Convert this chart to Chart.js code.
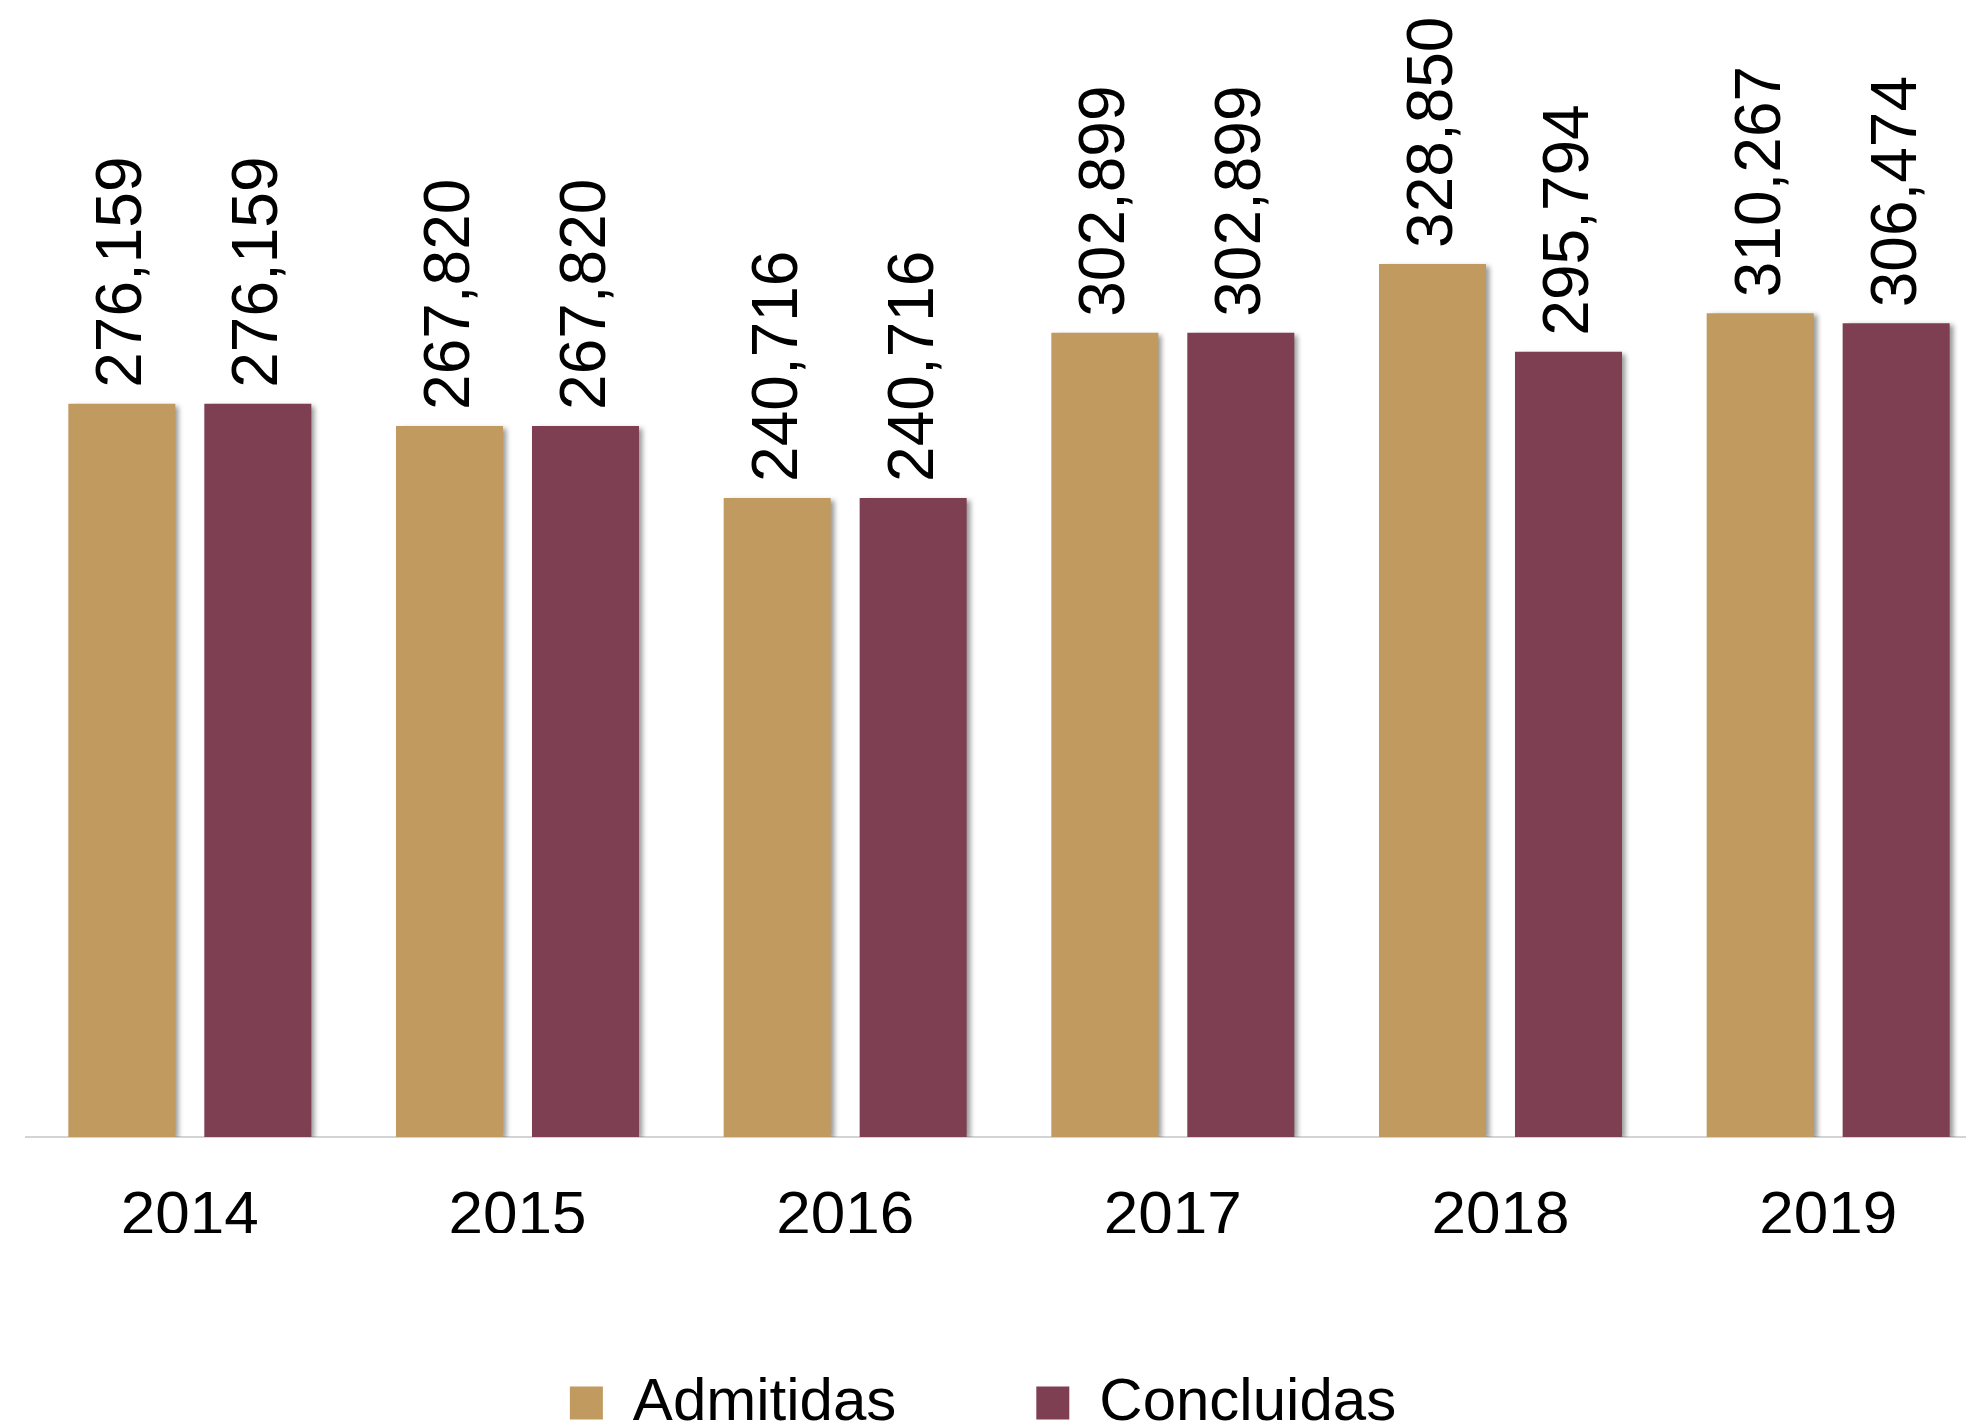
<!DOCTYPE html>
<html>
<head>
<meta charset="utf-8">
<script src="https://cdn.jsdelivr.net/npm/chart.js@4/dist/chart.umd.min.js"></script>
<style>
  html, body { margin: 0; padding: 0; background: #fff; overflow: hidden; width: 1966px; height: 1428px; }
  /* the plot runs a little past the right edge, as in the original */
  #box { position: absolute; left: -26px; top: 0; width: 2018px; height: 1443px; }
</style>
</head>
<body>
<div id="box"><canvas id="chart" width="2018" height="1443"></canvas></div>
<script>
// data
var years = ['2014', '2015', '2016', '2017', '2018', '2019'];
var admitidas = [276159, 267820, 240716, 302899, 328850, 310267];
var concluidas = [276159, 267820, 240716, 302899, 295794, 306474];

var FONT = "'Liberation Sans', Arial, sans-serif";

// soft shadow right of the bars
var barShadow = {
  id: 'barShadow',
  beforeDatasetsDraw: function(chart) {
    var ctx = chart.ctx;
    ctx.save();
    ctx.shadowColor = 'rgba(0,0,0,0.4)';
    ctx.shadowBlur = 5;
    ctx.shadowOffsetX = 4;
    ctx.shadowOffsetY = 2;
  },
  afterDatasetsDraw: function(chart) {
    chart.ctx.restore();
  }
};

// vertical value labels over each bar
var valueLabels = {
  id: 'valueLabels',
  afterDraw: function(chart) {
    var ctx = chart.ctx;
    ctx.save();
    ctx.font = '64px ' + FONT;
    ctx.fillStyle = '#000';
    ctx.textAlign = 'left';
    ctx.textBaseline = 'middle';
    chart.data.datasets.forEach(function(ds, i) {
      chart.getDatasetMeta(i).data.forEach(function(bar, j) {
        ctx.save();
        ctx.translate(bar.x + 2, bar.y - 16);
        ctx.rotate(-Math.PI / 2);
        ctx.fillText(ds.data[j].toLocaleString('en-US'), 0, 0);
        ctx.restore();
      });
    });
    ctx.restore();
  }
};

var ctx = document.getElementById('chart');
var chart = new Chart(ctx, {
  type: 'bar',
  data: {
    labels: years,
    datasets: [
      { label: 'Admitidas', data: admitidas, backgroundColor: '#C19A60' },
      { label: 'Concluidas', data: concluidas, backgroundColor: '#7E3F52' }
    ]
  },
  options: {
    responsive: false,
    animation: false,
    categoryPercentage: 0.83,
    barPercentage: 0.787,
    layout: { padding: { top: 75, left: 0, right: 0, bottom: 0 } },
    plugins: {
      tooltip: { enabled: false },
      legend: {
        position: 'bottom',
        labels: {
          color: '#000',
          font: { family: FONT, size: 60 },
          boxWidth: 33,
          boxHeight: 33,
          padding: 140
        }
      }
    },
    scales: {
      x: {
        grid: { display: false },
        border: { display: true, color: '#d4d4d4', width: 2 },
        ticks: { color: '#000', font: { family: FONT, size: 62 }, padding: 35 },
        afterFit: function(s) { s.height = 96; }
      },
      y: {
        min: 0,
        max: 400000,
        grid: { display: false },
        border: { display: false },
        ticks: { display: false },
        afterFit: function(s) { s.width = 52; }
      }
    }
  },
  plugins: [barShadow, valueLabels]
});
</script>
</body>
</html>
